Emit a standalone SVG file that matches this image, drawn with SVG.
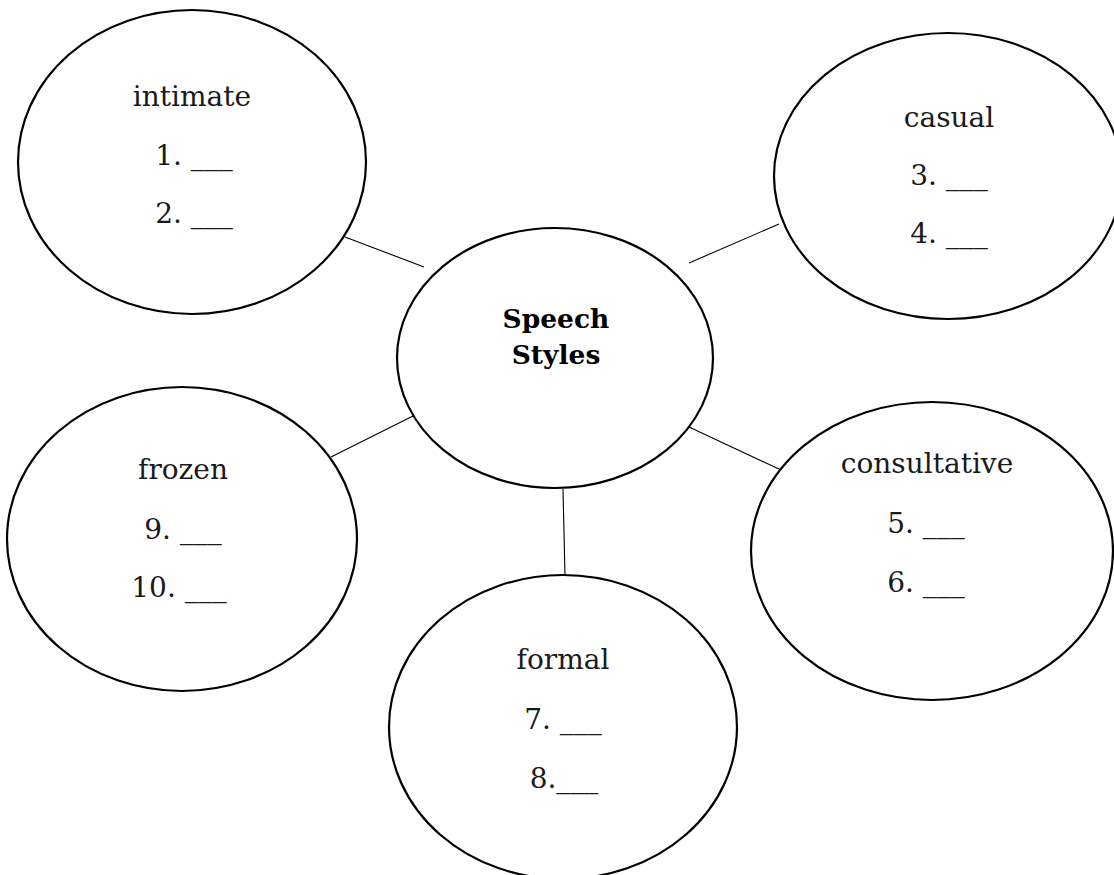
<svg xmlns="http://www.w3.org/2000/svg" width="1114" height="875" viewBox="0 0 1114 875">
<style>
.n{fill:#fff;stroke:#000;stroke-width:2.2}
.t{font-family:"DejaVu Serif","Liberation Serif",serif;font-size:28px;fill:#1a1a1a;text-anchor:middle}
.b{font-family:"DejaVu Serif","Liberation Serif",serif;font-size:26.5px;font-weight:bold;fill:#000;text-anchor:middle}
.c line{stroke:#000;stroke-width:1.1}
</style>
<rect width="1114" height="875" fill="#fff"/>
<g class="c" id="connectors">
<line x1="345" y1="237" x2="424" y2="267"/>
<line x1="689" y1="263" x2="779" y2="224"/>
<line x1="331" y1="457" x2="415" y2="415"/>
<line x1="689" y1="427" x2="781" y2="470"/>
<line x1="563" y1="489" x2="565" y2="576"/>
</g>
<g id="center">
<ellipse class="n" cx="555" cy="358" rx="158" ry="130"/>
<text class="b" x="556" y="328">Speech</text>
<text class="b" x="556" y="364">Styles</text>
</g>
<g id="intimate">
<ellipse class="n" cx="192" cy="162" rx="174" ry="152"/>
<text class="t" x="192" y="106">intimate</text>
<text class="t" x="194" y="165">1. ___</text>
<text class="t" x="194" y="223">2. ___</text>
</g>
<g id="casual">
<ellipse class="n" cx="948" cy="176" rx="174" ry="143"/>
<text class="t" x="949" y="127">casual</text>
<text class="t" x="949" y="185">3. ___</text>
<text class="t" x="949" y="243">4. ___</text>
</g>
<g id="frozen">
<ellipse class="n" cx="182" cy="539" rx="175" ry="152"/>
<text class="t" x="183" y="479">frozen</text>
<text class="t" x="183" y="539">9. ___</text>
<text class="t" x="179" y="597">10. ___</text>
</g>
<g id="consultative">
<ellipse class="n" cx="932" cy="551" rx="181" ry="149"/>
<text class="t" x="927" y="473">consultative</text>
<text class="t" x="926" y="533">5. ___</text>
<text class="t" x="926" y="592">6. ___</text>
</g>
<g id="formal">
<ellipse class="n" cx="563" cy="727" rx="174" ry="152"/>
<text class="t" x="563" y="669">formal</text>
<text class="t" x="563" y="729">7. ___</text>
<text class="t" x="564" y="788">8.___</text>
</g>
</svg>
